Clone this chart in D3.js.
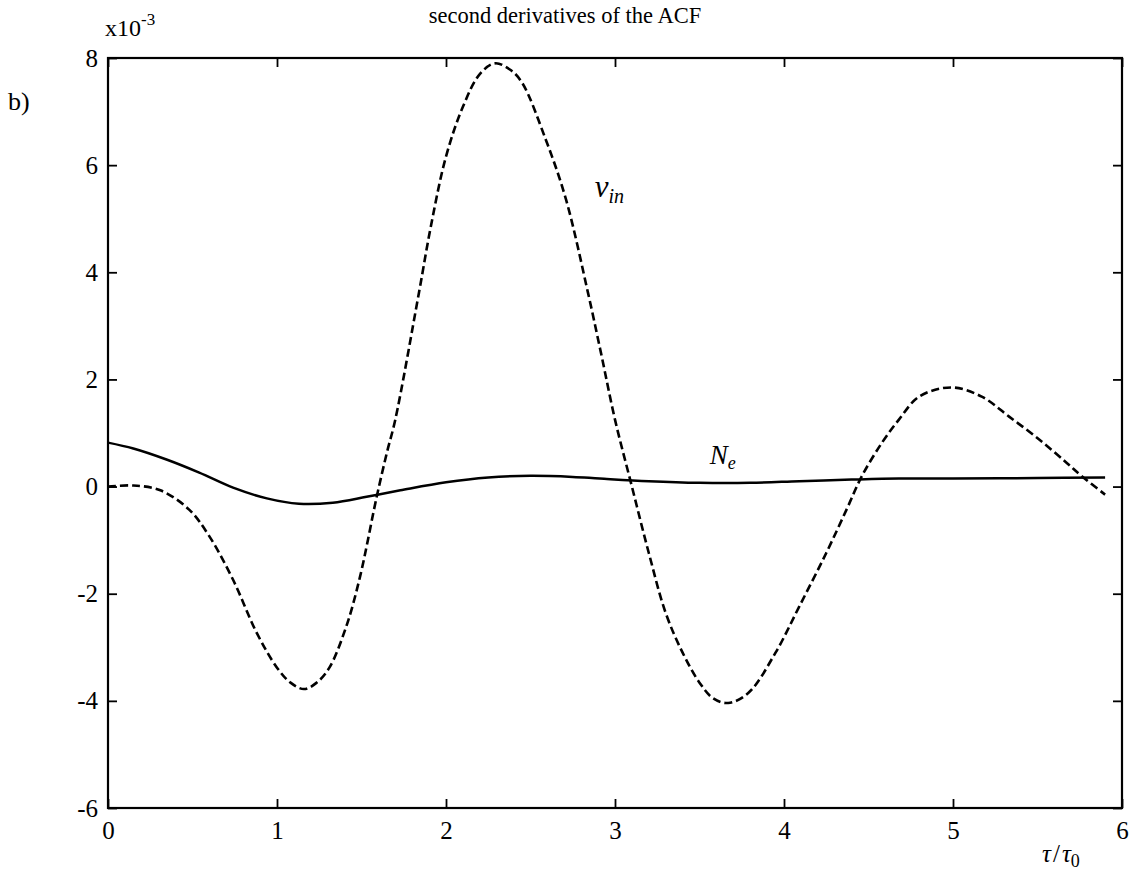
<!DOCTYPE html>
<html>
<head>
<meta charset="utf-8">
<script src="https://cdn.jsdelivr.net/npm/d3@7"></script>
<style>
  body { margin: 0; background: #fff; }
  svg text { font-family: "Liberation Serif", "Times New Roman", serif; fill: #000; }
</style>
</head>
<body>
<div id="chart"></div>
<script>
// values (y in units of 1e-3)
const nuInTau = [0, 0.15, 0.31, 0.48, 0.6, 0.74, 0.88, 1.0, 1.08, 1.16, 1.235, 1.31, 1.41, 1.49, 1.59, 1.65, 1.7,
  1.84, 1.91, 2.0, 2.1, 2.2, 2.29, 2.38, 2.45, 2.59, 2.71, 2.84, 2.92, 3.0, 3.1, 3.2, 3.3, 3.4,
  3.5, 3.58, 3.67, 3.79, 3.95, 4.09, 4.25, 4.37, 4.46, 4.58, 4.68, 4.8, 4.99, 5.17, 5.33, 5.51,
  5.67, 5.76, 5.9];
const nuInValues = [0, 0.02, -0.07, -0.43, -0.93, -1.74, -2.73, -3.38, -3.66, -3.78, -3.66, -3.38, -2.61, -1.7, -0.19, 0.63, 1.25,
  3.62, 4.85, 6.16, 7.09, 7.7, 7.9, 7.78, 7.54, 6.48, 5.36, 3.62, 2.45, 1.25, 0.0, -1.24, -2.36, -3.1,
  -3.66, -3.95, -4.04, -3.85, -3.1, -2.24, -1.24, -0.43, 0.19, 0.82, 1.25, 1.68, 1.85, 1.68, 1.31, 0.88,
  0.45, 0.2, -0.15];

const neTau = [0, 0.15, 0.35, 0.54, 0.74, 0.94, 1.13, 1.33, 1.53, 1.73, 2.0, 2.25, 2.5, 2.75, 2.91,
  3.2, 3.5, 3.8, 4.09, 4.4, 4.68, 5.0, 5.5, 5.9];
const neValues = [0.82, 0.71, 0.5, 0.26, -0.02, -0.22, -0.32, -0.3, -0.19, -0.07, 0.08, 0.17, 0.2, 0.18, 0.15,
  0.1, 0.07, 0.07, 0.1, 0.13, 0.15, 0.15, 0.16, 0.17];

const xTicks = [0, 1, 2, 3, 4, 5, 6];
const yTicks = [-6, -4, -2, 0, 2, 4, 6, 8];

const title = 'second derivatives of the ACF';

// layout
const width = 1131;
const height = 880;
const margin = {left: 108, right: 9, top: 58, bottom: 72};
const w = width - margin.left - margin.right;
const h = height - margin.top - margin.bottom;
const tick = 9;
const serif = '"Liberation Serif", "Times New Roman", serif';

const svg = d3.select('#chart').append('svg')
  .attr('width', width)
  .attr('height', height);

const g = svg.append('g')
  .attr('transform', `translate(${margin.left},${margin.top})`);

const x = d3.scaleLinear().domain([0, 6]).range([0, w]);
const y = d3.scaleLinear().domain([-6, 8]).range([h, 0]);

// axes with inward ticks on all four sides, matlab style plain hyphen minus
const styleAxis = sel => {
  sel.attr('font-family', null).attr('font-size', null);
  sel.select('.domain').remove();
  sel.selectAll('.tick line').attr('stroke', '#000').attr('stroke-width', 1.8);
  sel.selectAll('.tick text')
    .style('font-family', serif)
    .style('font-size', '25px');
};
const plain = d => String(d);

g.append('g')
  .attr('transform', `translate(0,${h})`)
  .call(d3.axisBottom(x).tickValues(xTicks).tickSize(-tick).tickPadding(13).tickFormat(plain))
  .call(styleAxis);

g.append('g')
  .call(d3.axisLeft(y).tickValues(yTicks).tickSize(-tick).tickPadding(10).tickFormat(plain))
  .call(styleAxis);

g.append('g')
  .call(d3.axisTop(x).tickValues(xTicks).tickSize(-tick).tickFormat(''))
  .call(styleAxis);

g.append('g')
  .attr('transform', `translate(${w},0)`)
  .call(d3.axisRight(y).tickValues(yTicks).tickSize(-tick).tickFormat(''))
  .call(styleAxis);

// box
g.append('rect')
  .attr('width', w)
  .attr('height', h)
  .attr('fill', 'none')
  .attr('stroke', '#000')
  .attr('stroke-width', 2.2);

// curves
const line = d3.line()
  .x(d => x(d[0]))
  .y(d => y(d[1]))
  .curve(d3.curveCatmullRom);

g.append('path')
  .datum(d3.zip(nuInTau, nuInValues))
  .attr('d', line)
  .attr('fill', 'none')
  .attr('stroke', '#000')
  .attr('stroke-width', 2.6)
  .attr('stroke-dasharray', '8,4');

g.append('path')
  .datum(d3.zip(neTau, neValues))
  .attr('d', line)
  .attr('fill', 'none')
  .attr('stroke', '#000')
  .attr('stroke-width', 2.5);

// curve labels
const nuLabel = g.append('text')
  .attr('x', x(2.88))
  .attr('y', y(5.4));
nuLabel.append('tspan').style('font-size', '31px').style('font-style', 'italic').text('ν');
nuLabel.append('tspan').attr('dy', 6).style('font-size', '20px').style('font-style', 'italic').text('in');

const neLabel = g.append('text')
  .attr('x', x(3.56))
  .attr('y', y(0.42));
neLabel.append('tspan').style('font-size', '27px').style('font-style', 'italic').text('N');
neLabel.append('tspan').attr('dy', 5).style('font-size', '18px').style('font-style', 'italic').text('e');

// title, exponent, panel tag, axis label
svg.append('text')
  .attr('x', 565)
  .attr('y', 23)
  .attr('text-anchor', 'middle')
  .style('font-size', '22.5px')
  .text(title);

const expo = svg.append('text')
  .attr('x', 105)
  .attr('y', 36);
expo.append('tspan').style('font-size', '24px').text('x10');
expo.append('tspan').attr('dy', -11).style('font-size', '17px').text('-3');

svg.append('text')
  .attr('x', 8)
  .attr('y', 110)
  .style('font-size', '26px')
  .text('b)');

const xLabel = svg.append('text')
  .attr('x', 1042)
  .attr('y', 862);
xLabel.append('tspan').style('font-size', '25px').style('font-style', 'italic').text('τ');
xLabel.append('tspan').attr('dx', 2).style('font-size', '25px').text('/');
xLabel.append('tspan').attr('dx', 2).style('font-size', '25px').style('font-style', 'italic').text('τ');
xLabel.append('tspan').attr('dy', 5).style('font-size', '18px').text('0');
</script>
</body>
</html>
